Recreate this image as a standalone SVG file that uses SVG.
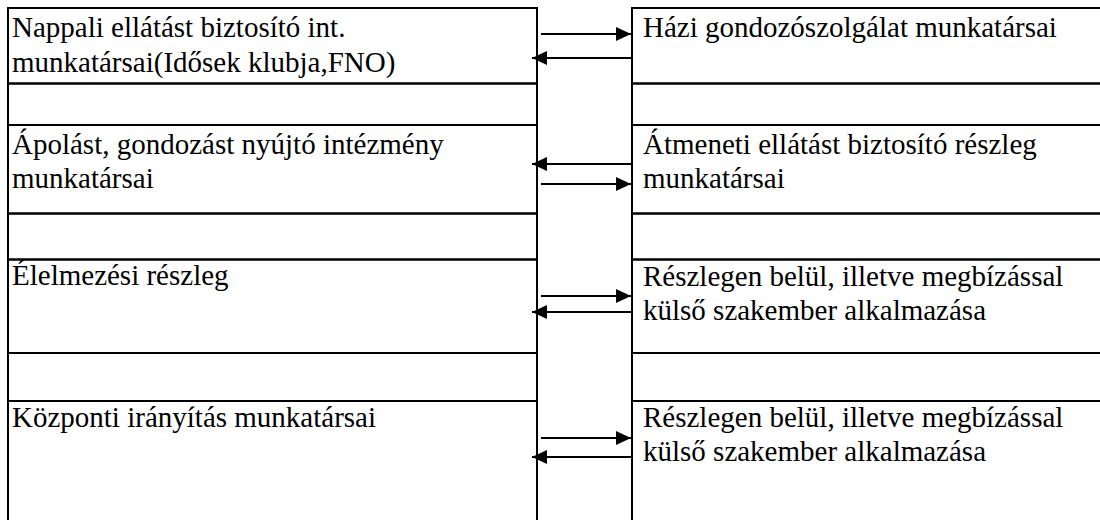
<svg xmlns="http://www.w3.org/2000/svg" width="1100" height="520" viewBox="0 0 1100 520">
<defs>
<style>
.cell{fill:none;stroke:#000;stroke-width:2}
.t{font-family:"Liberation Serif","Times New Roman","DejaVu Serif",serif;font-size:29px;fill:#000}
.c{stroke:#000;stroke-width:2;fill:none}
</style>
<marker id="ah" viewBox="0 0 15 14" refX="15" refY="7" markerWidth="15" markerHeight="14" markerUnits="userSpaceOnUse" orient="auto">
<path d="M0,0 L15,7 L0,14 Z" fill="#000"/>
</marker>
</defs>
<rect width="1100" height="520" fill="#fff"/>
<g id="n1">
<rect class="cell" x="8" y="8" width="529" height="75.5"/>
<text class="t" x="12" y="37">Nappali ellátást biztosító int.</text>
<text class="t" x="12" y="71.5">munkatársai(Idősek klubja,FNO)</text>
</g>
<g id="n1s"><rect class="cell" x="8" y="83.5" width="529" height="41.5"/></g>
<g id="n2">
<rect class="cell" x="8" y="125" width="529" height="88.5"/>
<text class="t" x="12" y="154">Ápolást, gondozást nyújtó intézmény</text>
<text class="t" x="12" y="188">munkatársai</text>
</g>
<g id="n2s"><rect class="cell" x="8" y="213.5" width="529" height="46"/></g>
<g id="n3">
<rect class="cell" x="8" y="259.5" width="529" height="93.5"/>
<text class="t" x="12" y="285">Élelmezési részleg</text>
</g>
<g id="n3s"><rect class="cell" x="8" y="353" width="529" height="48"/></g>
<g id="n4">
<rect class="cell" x="8" y="401" width="529" height="130"/>
<text class="t" x="12" y="427">Központi irányítás munkatársai</text>
</g>
<g id="m1">
<rect class="cell" x="632" y="8" width="480" height="75.5"/>
<text class="t" x="643" y="37">Házi gondozószolgálat munkatársai</text>
</g>
<g id="m1s"><rect class="cell" x="632" y="83.5" width="480" height="41.5"/></g>
<g id="m2">
<rect class="cell" x="632" y="125" width="480" height="88.5"/>
<text class="t" x="643" y="154">Átmeneti ellátást biztosító részleg</text>
<text class="t" x="643" y="188">munkatársai</text>
</g>
<g id="m2s"><rect class="cell" x="632" y="213.5" width="480" height="46"/></g>
<g id="m3">
<rect class="cell" x="632" y="259.5" width="480" height="93.5"/>
<text class="t" x="643" y="286">Részlegen belül, illetve megbízással</text>
<text class="t" x="643" y="320">külső szakember alkalmazása</text>
</g>
<g id="m3s"><rect class="cell" x="632" y="353" width="480" height="48"/></g>
<g id="m4">
<rect class="cell" x="632" y="401" width="480" height="130"/>
<text class="t" x="643" y="427">Részlegen belül, illetve megbízással</text>
<text class="t" x="643" y="461">külső szakember alkalmazása</text>
</g>
<g id="connectors">
<line class="c" x1="541" y1="34" x2="631" y2="34" marker-end="url(#ah)"/>
<line class="c" x1="632" y1="58" x2="532" y2="58" marker-end="url(#ah)"/>
<line class="c" x1="632" y1="164" x2="532" y2="164" marker-end="url(#ah)"/>
<line class="c" x1="541" y1="184" x2="631" y2="184" marker-end="url(#ah)"/>
<line class="c" x1="541" y1="296" x2="631" y2="296" marker-end="url(#ah)"/>
<line class="c" x1="632" y1="312" x2="532" y2="312" marker-end="url(#ah)"/>
<line class="c" x1="541" y1="438" x2="631" y2="438" marker-end="url(#ah)"/>
<line class="c" x1="632" y1="457" x2="532" y2="457" marker-end="url(#ah)"/>
</g>
</svg>
